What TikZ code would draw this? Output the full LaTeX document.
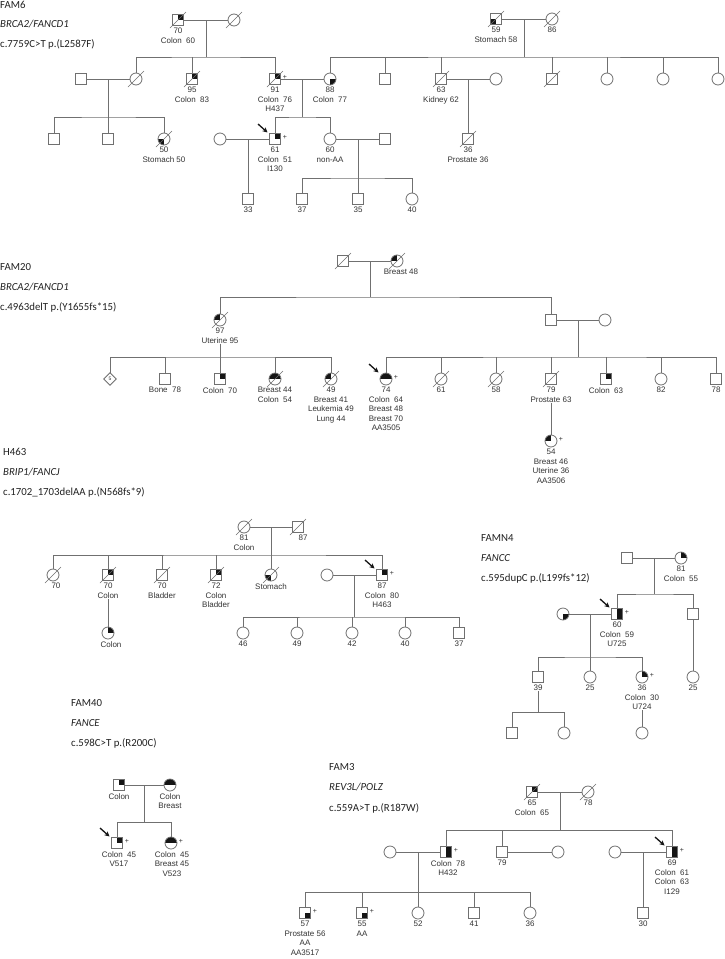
\documentclass[tikz,border=0pt]{standalone}
\usepackage{fontspec}
\setmainfont{Liberation Sans}
\newfontfamily\hdfont{Carlito}
\usetikzlibrary{shapes.geometric,arrows.meta}
\definecolor{lc}{HTML}{707070}
\definecolor{tc}{HTML}{333333}
\definecolor{hc}{HTML}{222222}
\definecolor{fc}{HTML}{151515}
\tikzset{
  ped/.style={draw=lc, line width=0.8pt, fill=white, inner sep=0pt, outer sep=0pt},
  male/.style={ped, rectangle, minimum size=11.5pt},
  female/.style={ped, circle, minimum size=12pt},
  unk/.style={ped, diamond, minimum size=12.5pt, font=\fontsize{5}{5}\selectfont, text=tc},
  ur/.style={path picture={\fill[fc] (path picture bounding box.center) rectangle (path picture bounding box.north east);}},
  ul/.style={path picture={\fill[fc] (path picture bounding box.center) rectangle (path picture bounding box.north west);}},
  ll/.style={path picture={\fill[fc] (path picture bounding box.center) rectangle (path picture bounding box.south west);}},
  lr/.style={path picture={\fill[fc] (path picture bounding box.center) rectangle (path picture bounding box.south east);}},
  tophalf/.style={path picture={\fill[fc] (path picture bounding box.west) rectangle (path picture bounding box.north east);}},
  righthalf/.style={path picture={\fill[fc] (path picture bounding box.south) rectangle (path picture bounding box.north east);}},
  lnk/.style={draw=lc, line width=0.8pt},
  slash/.style={draw=lc, line width=0.6pt},
  lbl/.style={font=\fontsize{8}{9.5}\selectfont, text=tc, align=center, inner sep=0pt, anchor=north},
  hd/.style={font=\hdfont\fontsize{10.8}{13}\selectfont, text=hc, anchor=west, inner sep=0pt},
  plus/.style={font=\fontsize{7}{7}\selectfont, text=tc, inner sep=0pt},
  proband/.style={-{Stealth[length=5pt,width=5pt]}, line width=1.3pt, draw=fc},
}
\newcommand\pdead[1]{\draw[slash] ([shift={(-8,8)}]#1.center) -- ([shift={(8,-8)}]#1.center);}
\newcommand\plab[2]{\node[lbl] (#1l) at ([shift={(0,8)}]#1.center) {#2};}
\newcommand\pplus[1]{\node[plus] (#1p) at ([shift={(10,-2)}]#1.center) {+};}
\newcommand\parr[1]{\draw[proband] ([shift={(-17,-15)}]#1.center) -- ([shift={(-7.5,-6.5)}]#1.center);}
\begin{document}
\begin{tikzpicture}[x=1pt,y=-1pt]
\fill[white] (0,0) rectangle (725,959);
\useasboundingbox (0,0) rectangle (725,959);

% ================= FAM6 =================
\node[hd] (h6a) at (0,4.5) {FAM6};
\node[hd] (h6b) at (0,24) {\itshape BRCA2/FANCD1};
\node[hd] (h6c) at (0,44) {c.7759C>T p.(L2587F)};

\node[male,ur] (a1) at (178,20) {};
\node[female] (a2) at (234,20) {};
\node[male,ll] (r1) at (496,19) {};
\node[female] (r2) at (552,19) {};
\coordinate (ma) at (206,20); \coordinate (sa) at (206,57);
\coordinate (mr) at (524,19); \coordinate (sr) at (524,57);
\draw[lnk] (a1) -- (a2); \draw[lnk] (ma) -- (sa);
\draw[lnk] (r1) -- (r2); \draw[lnk] (mr) -- (sr);
\pdead{a1}\pdead{a2}\pdead{r1}\pdead{r2}
\plab{a1}{70\\Colon~~60}
\plab{r1}{59\\Stomach 58}
\plab{r2}{86}

\node[male] (b1) at (81,79) {};
\node[female] (b2) at (136,79) {};
\node[male,ur] (b3) at (192,79) {};
\node[male,ur] (b4) at (275,79) {};
\node[female,lr] (b5) at (330,79) {};
\node[male] (b6) at (385,79) {};
\node[male] (b7) at (441,79) {};
\node[female] (b8) at (496,79) {};
\node[male] (b9) at (552,79) {};
\node[female] (b10) at (607,79) {};
\node[female] (b11) at (663,79) {};
\node[female] (b12) at (718,79) {};
\draw[lnk] (b2) |- (sa) -| (b4); \draw[lnk] (b3) -- (b3 |- sa);
\draw[lnk] (b5) |- (sr) -| (b12);
\foreach \n in {b6,b7,b9,b10,b11} {\draw[lnk] (\n) -- (\n |- sr);}
\pdead{b2}\pdead{b3}\pdead{b4}\pdead{b7}\pdead{b9}
\plab{b3}{95\\Colon~~83}
\plab{b4}{91\\Colon~~76\\H437}
\pplus{b4}
\plab{b5}{88\\Colon~~77}
\plab{b7}{63\\Kidney 62}

\coordinate (mb) at (108,79); \coordinate (sb) at (108,117);
\coordinate (mc) at (302,79); \coordinate (sc) at (302,117);
\coordinate (md) at (468,79);
\draw[lnk] (b1) -- (b2); \draw[lnk] (mb) -- (sb);
\draw[lnk] (b4) -- (b5); \draw[lnk] (mc) -- (sc);
\draw[lnk] (b7) -- (b8);

\node[male] (c1) at (54,139) {};
\node[male] (c2) at (108,139) {};
\node[female,ll] (c3) at (164,139) {};
\node[female] (c7) at (220,139) {};
\node[male,ur] (c4) at (275,139) {};
\node[female] (c5) at (330,139) {};
\node[male] (c8) at (385,139) {};
\node[male] (c6) at (468,139) {};
\draw[lnk] (c1) |- (sb) -| (c3); \draw[lnk] (c2) -- (sb);
\draw[lnk] (c4) |- (sc) -| (c5);
\draw[lnk] (md) -- (c6);
\pdead{c3}\pdead{c6}
\plab{c3}{50\\Stomach 50}
\plab{c4}{61\\Colon~~51\\I130}
\pplus{c4}\parr{c4}
\plab{c5}{60\\non-AA}
\plab{c6}{36\\Prostate 36}

\coordinate (me) at (248,139);
\coordinate (mf) at (358,139); \coordinate (sf6) at (358,178);
\draw[lnk] (c7) -- (c4);
\draw[lnk] (c5) -- (c8);
\node[male] (d1) at (248,199) {};
\node[male] (d2) at (302,199) {};
\node[male] (d3) at (358,199) {};
\node[female] (d4) at (412,199) {};
\draw[lnk] (me) -- (d1);
\draw[lnk] (mf) -- (sf6);
\draw[lnk] (d2) |- (sf6) -| (d4); \draw[lnk] (d3) -- (sf6);
\plab{d1}{33}\plab{d2}{37}\plab{d3}{35}\plab{d4}{40}

% ================= FAM20 =================
\node[hd] (h20a) at (0,267) {FAM20};
\node[hd] (h20b) at (0,287) {\itshape BRCA2/FANCD1};
\node[hd] (h20c) at (0,307) {c.4963delT p.(Y1655fs*15)};

\node[male] (e1) at (343,261) {};
\node[female,ul] (e2) at (397,261) {};
\coordinate (mg) at (370,261); \coordinate (sg1) at (370,297);
\draw[lnk] (e1) -- (e2); \draw[lnk] (mg) -- (sg1);
\pdead{e1}\pdead{e2}
\node[lbl] (e2l) at ([shift={(4,8)}]e2.center) {Breast 48};

\node[female,ul] (f1) at (220,320) {};
\node[male] (f2) at (551,320) {};
\node[female] (f3) at (605,320) {};
\draw[lnk] (f1) |- (sg1) -| (f2);
\draw[lnk] (f2) -- (f3);
\coordinate (mh) at (578,320); \coordinate (sh) at (578,357);
\draw[lnk] (mh) -- (sh);
\pdead{f1}
\plab{f1}{97\\Uterine 95}

\coordinate (sgl) at (220,357);
\node[unk] (g1) at (110,379) {5};
\node[male] (g2) at (165,379) {};
\node[male,ur] (g3) at (220,379) {};
\node[female,tophalf] (g4) at (275,379) {};
\node[female,ul] (g5) at (331,379) {};
\draw[lnk] (f1l) -- (g3);
\draw[lnk] (g1) |- (sgl) -| (g5);
\draw[lnk] (g2) -- (g2 |- sgl); \draw[lnk] (g4) -- (g4 |- sgl);
\pdead{g4}\pdead{g5}
\plab{g2}{Bone~~78}
\plab{g3}{Colon~~70}
\plab{g4}{Breast 44\\Colon~~54}
\plab{g5}{49\\Breast 41\\Leukemia 49\\Lung 44}

\node[female,tophalf] (g6) at (386,379) {};
\node[female] (g7) at (441,379) {};
\node[female] (g8) at (496,379) {};
\node[male] (g9) at (551,379) {};
\node[male,ur] (g10) at (606,379) {};
\node[female] (g11) at (661,379) {};
\node[male] (g12) at (716,379) {};
\draw[lnk] (g6) |- (sh) -| (g12);
\foreach \n in {g7,g8,g9,g10,g11} {\draw[lnk] (\n) -- (\n |- sh);}
\pdead{g7}\pdead{g8}\pdead{g9}
\plab{g6}{74\\Colon~~64\\Breast 48\\Breast 70\\AA3505}
\pplus{g6}\parr{g6}
\plab{g7}{61}\plab{g8}{58}
\plab{g9}{79\\Prostate 63}
\plab{g10}{Colon~~63}
\plab{g11}{82}\plab{g12}{78}

\node[female,ul] (h1) at (551,441) {};
\draw[lnk] (g9l) -- (h1);
\plab{h1}{54\\Breast 46\\Uterine 36\\AA3506}
\pplus{h1}

% ================= H463 =================
\node[hd] (h4a) at (3,452) {H463};
\node[hd] (h4b) at (3,472) {\itshape BRIP1/FANCJ};
\node[hd] (h4c) at (3,492) {c.1702\_1703delAA p.(N568fs*9)};

\node[female] (i1) at (244,527) {};
\node[male] (i2) at (298,527) {};
\coordinate (mi) at (271,527); \coordinate (si) at (271,555);
\draw[lnk] (i1) -- (i2); \draw[lnk] (mi) -- (si);
\pdead{i1}\pdead{i2}
\plab{i1}{81\\Colon}
\node[lbl] (i2l) at ([shift={(5,8)}]i2.center) {87};

\node[female] (j1) at (53,575) {};
\node[male,ur] (j2) at (108,575) {};
\node[male] (j3) at (162,575) {};
\node[male,ur] (j4) at (216,575) {};
\node[female,ll] (j5) at (271,575) {};
\node[female] (j6) at (327,575) {};
\node[male,ur] (j7) at (382,575) {};
\draw[lnk] (j1) |- (si) -| (j7);
\foreach \n in {j2,j3,j4,j5} {\draw[lnk] (\n) -- (\n |- si);}
\pdead{j1}\pdead{j2}\pdead{j3}\pdead{j4}\pdead{j5}
\node[lbl] (j1l) at ([shift={(3,8)}]j1.center) {70};
\plab{j2}{70\\Colon}
\plab{j3}{70\\Bladder}
\plab{j4}{72\\Colon\\Bladder}
\plab{j5}{Stomach}
\plab{j7}{87\\Colon~~80\\H463}
\pplus{j7}\parr{j7}

\coordinate (mj) at (354,575); \coordinate (sj) at (354,617);
\draw[lnk] (j6) -- (j7); \draw[lnk] (mj) -- (sj);
\node[female,ur] (k1) at (108,633) {};
\draw[lnk] (j2l) -- (k1);
\node[lbl] (k1l) at ([shift={(3,8)}]k1.center) {Colon};
\node[female] (k2) at (243,633) {};
\node[female] (k3) at (297,633) {};
\node[female] (k4) at (352,633) {};
\node[female] (k5) at (405,633) {};
\node[male] (k6) at (459,633) {};
\draw[lnk] (k2) |- (sj) -| (k6);
\foreach \n in {k3,k4,k5} {\draw[lnk] (\n) -- (\n |- sj);}
\plab{k2}{46}\plab{k3}{49}\plab{k4}{42}\plab{k5}{40}\plab{k6}{37}

% ================= FAMN4 =================
\node[hd] (hna) at (481,538) {FAMN4};
\node[hd] (hnb) at (481,558) {\itshape FANCC};
\node[hd] (hnc) at (481,578) {c.595dupC p.(L199fs*12)};

\node[male] (n1) at (627,558) {};
\node[female,ur] (n2) at (681,558) {};
\coordinate (mn) at (654,558); \coordinate (sn) at (654,594);
\draw[lnk] (n1) -- (n2); \draw[lnk] (mn) -- (sn);
\plab{n2}{81\\Colon~~55}

\node[female,lr] (n3) at (563,614) {};
\node[male,righthalf] (n4) at (617,614) {};
\node[male] (n5) at (693,614) {};
\draw[lnk] (n4) |- (sn) -| (n5);
\draw[lnk] (n3) -- (n4);
\plab{n4}{60\\Colon~~59\\U725}
\pplus{n4}\parr{n4}

\coordinate (mo) at (590,614); \coordinate (so) at (590,657);
\draw[lnk] (mo) -- (so);
\node[male] (n6) at (538,677) {};
\node[female] (n7) at (590,677) {};
\node[female,ur] (n8) at (642,677) {};
\node[female] (n9) at (693,677) {};
\draw[lnk] (n6) |- (so) -| (n8); \draw[lnk] (n7) -- (so);
\draw[lnk] (n5) -- (n9);
\plab{n6}{39}\plab{n7}{25}
\plab{n8}{36\\Colon~~30\\U724}
\pplus{n8}
\plab{n9}{25}

\coordinate (sp) at (538,712);
\node[male] (n10) at (512,733) {};
\node[female] (n11) at (564,733) {};
\node[female] (n12) at (642,733) {};
\draw[lnk] (n6l) -- (sp);
\draw[lnk] (n10) |- (sp) -| (n11);
\draw[lnk] (n8l) -- (n12);

% ================= FAM40 =================
\node[hd] (h40a) at (71,703) {FAM40};
\node[hd] (h40b) at (71,723) {\itshape FANCE};
\node[hd] (h40c) at (71,743) {c.598C>T p.(R200C)};

\node[male,ur] (o1) at (119,785) {};
\node[female,tophalf] (o2) at (170,785) {};
\coordinate (mo4) at (144,785); \coordinate (so4) at (144,822);
\draw[lnk] (o1) -- (o2); \draw[lnk] (mo4) -- (so4);
\plab{o1}{Colon}
\plab{o2}{Colon\\Breast}
\node[male,ur] (o3) at (117,843) {};
\node[female,tophalf] (o4) at (171,843) {};
\draw[lnk] (o3) |- (so4) -| (o4);
\node[lbl] (o3l) at ([shift={(2,8)}]o3.center) {Colon~~45\\V517};
\node[lbl] (o4l) at ([shift={(1,8)}]o4.center) {Colon~~45\\Breast 45\\V523};
\pplus{o3}\parr{o3}\pplus{o4}

% ================= FAM3 =================
\node[hd] (h3a) at (329,767) {FAM3};
\node[hd] (h3b) at (329,787) {\itshape REV3L/POLZ};
\node[hd] (h3c) at (329,808) {c.559A>T p.(R187W)};

\node[male,ur] (q1) at (532,792) {};
\node[female] (q2) at (588,792) {};
\coordinate (mq) at (560,792); \coordinate (sq) at (560,830);
\draw[lnk] (q1) -- (q2); \draw[lnk] (mq) -- (sq);
\pdead{q1}\pdead{q2}
\plab{q1}{65\\Colon~~65}
\plab{q2}{78}

\node[female] (q3) at (390,852) {};
\node[male,righthalf] (q4) at (446,852) {};
\node[male] (q5) at (502,852) {};
\node[female] (q6) at (558,852) {};
\node[female] (q7) at (615,852) {};
\node[male,righthalf] (q8) at (672,852) {};
\draw[lnk] (q4) |- (sq) -| (q8); \draw[lnk] (q5) -- (q5 |- sq);
\draw[lnk] (q3) -- (q4); \draw[lnk] (q5) -- (q6); \draw[lnk] (q7) -- (q8);
\node[lbl] (q4l) at ([shift={(2,8)}]q4.center) {Colon~~78\\H432};
\pplus{q4}
\plab{q5}{79}
\plab{q8}{69\\Colon~~61\\Colon~~63\\I129}
\pplus{q8}\parr{q8}

\coordinate (mq3) at (418,852); \coordinate (sq3) at (418,892);
\coordinate (mq7) at (643,852);
\draw[lnk] (mq3) -- (sq3);
\node[male,lr] (q9) at (305,913) {};
\node[male,lr] (q10) at (362,913) {};
\node[female] (q11) at (418,913) {};
\node[male] (q12) at (474,913) {};
\node[female] (q13) at (530,913) {};
\node[male] (q14) at (643,913) {};
\draw[lnk] (q9) |- (sq3) -| (q13);
\foreach \n in {q10,q11,q12} {\draw[lnk] (\n) -- (\n |- sq3);}
\draw[lnk] (mq7) -- (q14);
\plab{q9}{57\\Prostate 56\\AA\\AA3517}
\plab{q10}{55\\AA}
\pplus{q9}\pplus{q10}
\plab{q11}{52}\plab{q12}{41}\plab{q13}{36}\plab{q14}{30}
\end{tikzpicture}
\end{document}
